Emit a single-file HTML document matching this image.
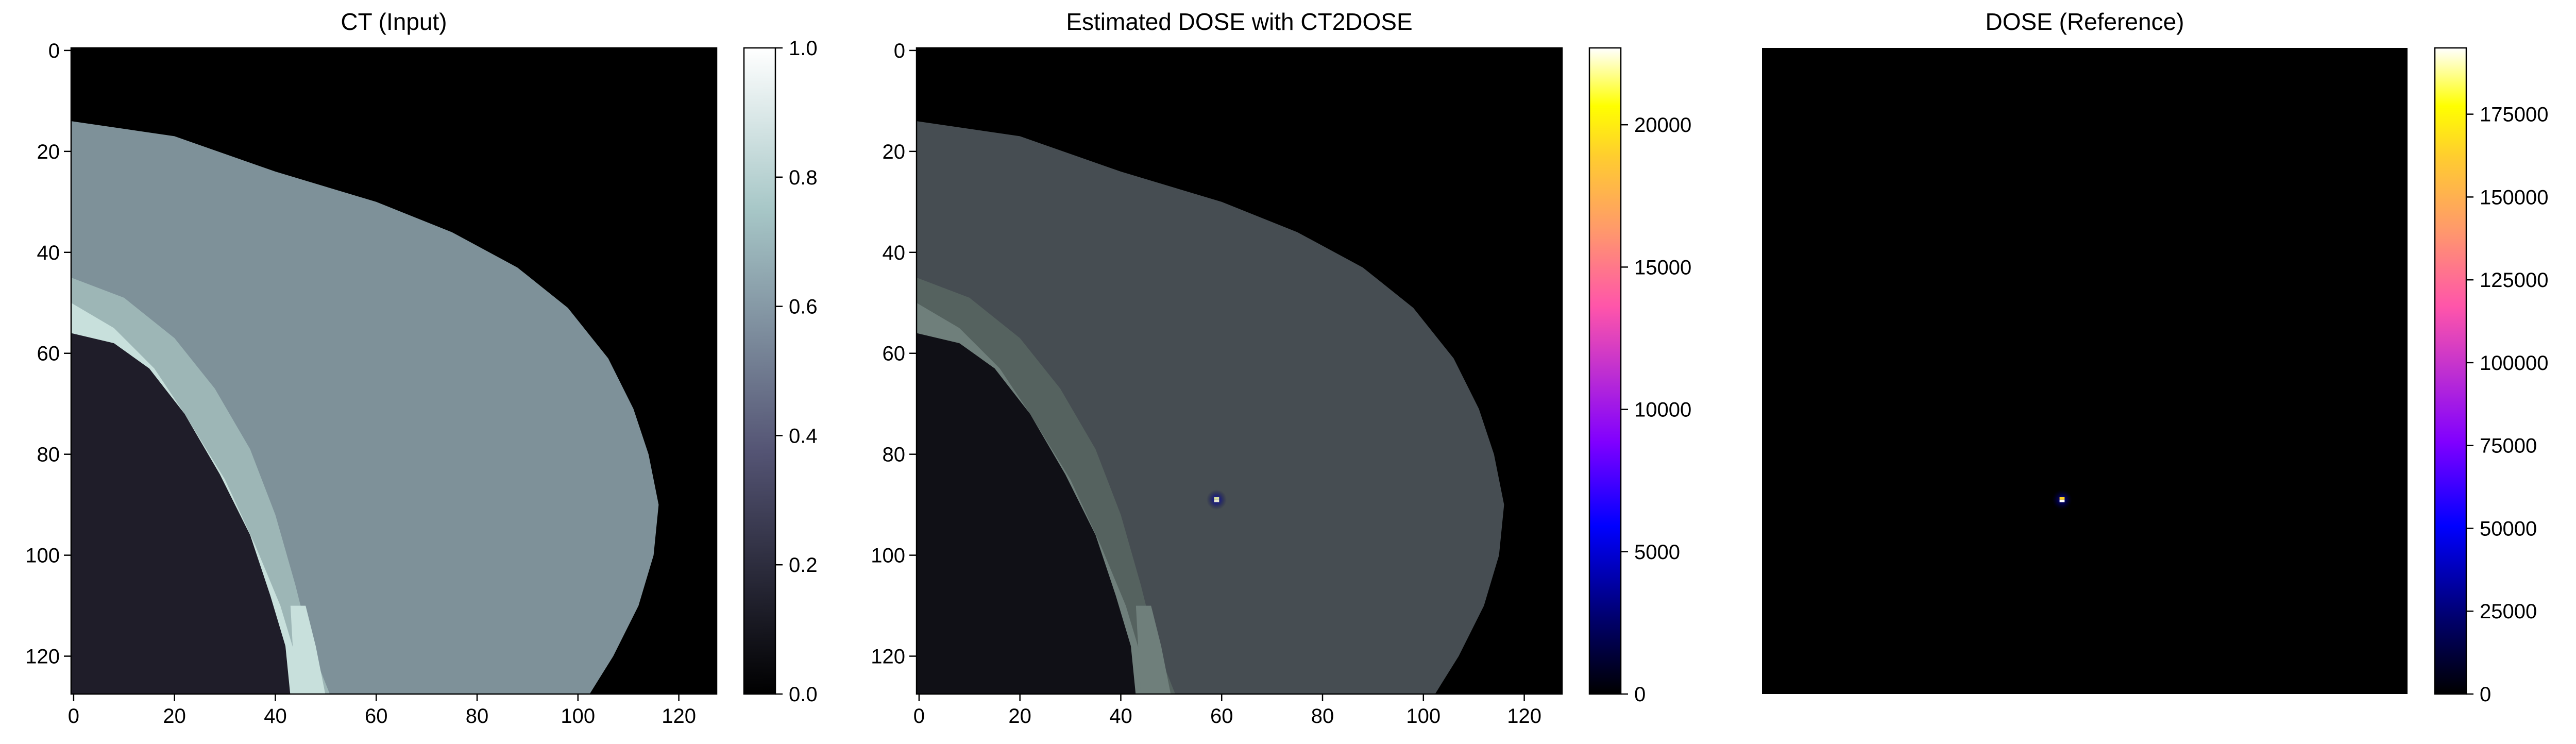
<!DOCTYPE html>
<html><head><meta charset="utf-8">
<style>
html,body{margin:0;padding:0;background:#fff;}
svg{display:block;font-family:"Liberation Sans","DejaVu Sans",sans-serif;}
</style></head>
<body>
<svg id="fig" width="5006" height="1444" viewBox="0 0 5006 1444" xmlns="http://www.w3.org/2000/svg">
<defs>
<linearGradient id="boneGrad" x1="0" y1="1" x2="0" y2="0">
<stop offset="0" stop-color="#000000"/><stop offset="0.375" stop-color="#545474"/>
<stop offset="0.75" stop-color="#a7c7c7"/><stop offset="1" stop-color="#ffffff"/>
</linearGradient>
<linearGradient id="gnuGrad" x1="0" y1="1" x2="0" y2="0">
<stop offset="0" stop-color="#000000"/><stop offset="0.12" stop-color="#000070"/>
<stop offset="0.26" stop-color="#0000ff"/><stop offset="0.39" stop-color="#8000ff"/>
<stop offset="0.5" stop-color="#c030d0"/><stop offset="0.6" stop-color="#ff55aa"/>
<stop offset="0.72" stop-color="#ff9a6a"/><stop offset="0.83" stop-color="#ffcc30"/>
<stop offset="0.91" stop-color="#ffff00"/><stop offset="1" stop-color="#ffffff"/>
</linearGradient>
<radialGradient id="glow"><stop offset="0" stop-color="#0000c0" stop-opacity="0.9"/><stop offset="1" stop-color="#000040" stop-opacity="0"/></radialGradient>
</defs>
<g id="root"></g>
</svg>
<script>
// data (image coordinates in pixel index units, 0..127)
const tickVals = [0, 20, 40, 60, 80, 100, 120];
const breastOutline = [[0,14],[20,17],[40,24],[60,30],[75,36],[88,43],[98,51],[106,61],[111,71],[114,80],[116,90],[115,100],[112,110],[107,120],[102,128],[0,128]];
const bandOutline = [[0,45],[10,49],[20,57],[28,67],[35,79],[40,92],[44,106],[47,118],[51,128],[0,128]];
const ribOutline = [[0,50],[8,55],[16,63],[22,72],[30,85],[36,98],[41,110],[44,120],[46,128],[0,128]];
const lowerRib = [[43,110],[46,110],[48,118],[50,128],[44,128]];
const lungOutline = [[0,56],[8,58],[15,63],[22,72],[29,84],[35,96],[39,108],[42,118],[43,128],[0,128]];
const hotSpot = [59, 89];
const ctTicks = [0.0, 0.2, 0.4, 0.6, 0.8, 1.0];
const ctTickLabels = ["0.0","0.2","0.4","0.6","0.8","1.0"];
const estMax = 22700;
const estTicks = [0, 5000, 10000, 15000, 20000];
const refMax = 195000;
const refTicks = [0, 25000, 50000, 75000, 100000, 125000, 150000, 175000];

const NS = "http://www.w3.org/2000/svg";
const root = document.getElementById("root");
function mk(tag, attrs, parent){ const e=document.createElementNS(NS,tag); for(const k in attrs) e.setAttribute(k,attrs[k]); (parent||root).appendChild(e); return e; }

const TOP=93, BOT=1347, H=BOT-TOP;
const panels = [
 {key:"ct", title:"CT (Input)", L:138, R:1391, cbL:1444, cbR:1505, axes:true},
 {key:"est", title:"Estimated DOSE with CT2DOSE", L:1779, R:3032, cbL:3085, cbR:3146, axes:true},
 {key:"ref", title:"DOSE (Reference)", L:3420, R:4673, cbL:4726, cbR:4787, axes:false}
];
const colors = {
 ct:{breast:"#7e9199", band:"#9db6b6", rib:"#c8e0dc", lung:"#1f1d29"},
 est:{breast:"#464d52", band:"#55625f", rib:"#6f7f7b", lung:"#101016"}
};

panels.forEach(p=>{
 const W=p.R-p.L;
 const sx = v => p.L + (v+0.5)/128*W;
 const sy = v => TOP + (v+0.5)/128*H;
 const g = mk("g",{});
 
 
 const bg = mk("rect",{x:p.L,y:TOP,width:W,height:H,fill:"#000"},g);
 
 
 const clip = mk("clipPath",{id:"clip-"+p.key},g);
 mk("rect",{x:p.L,y:TOP,width:W,height:H},clip);
 const ig = mk("g",{"clip-path":"url(#clip-"+p.key+")"},g);
 const poly = pts => pts.map(q=>sx(q[0]===0?-0.5:q[0]).toFixed(1)+","+sy(q[1]===128?128:q[1]).toFixed(1)).join(" ");
 if(p.key!=="ref"){
  const c=colors[p.key];
  const br = mk("polygon",{points:poly(breastOutline),fill:c.breast},ig);
  
  
  const bd = mk("polygon",{points:poly(bandOutline),fill:c.band},ig);
  
  
  const rb = mk("polygon",{points:poly(ribOutline),fill:c.rib},ig);
  
  
  const lg = mk("polygon",{points:poly(lungOutline),fill:c.lung},ig);
  
  
  const lr = mk("polygon",{points:poly(lowerRib),fill:c.rib},ig);
  
  
 }
 if(p.key!=="ct"){
  const px=W/128;
  const gl = mk("circle",{cx:sx(hotSpot[0]),cy:sy(hotSpot[1]),r:px*2,fill:"url(#glow)"},ig);
  
  
  const h1 = mk("rect",{x:sx(hotSpot[0])-px/2,y:sy(hotSpot[1])-px/2,width:px,height:px/2,fill:p.key==="ref"?"#ffd020":"#d8e0a0"},ig);
  
  
  const h2 = mk("rect",{x:sx(hotSpot[0])-px/2,y:sy(hotSpot[1]),width:px,height:px/2,fill:p.key==="ref"?"#ffffff":"#e8e8d0"},ig);
  
  
 }
 const t = mk("text",{x:(p.L+p.R)/2,y:58,"text-anchor":"middle","font-size":46,fill:"#000"},g);
 t.textContent=p.title;
 
 
 if(p.axes){
  const fr = mk("rect",{x:p.L,y:TOP,width:W,height:H,fill:"none",stroke:"#000","stroke-width":2.5},g);
  
  
  tickVals.forEach(v=>{
   mk("line",{x1:sx(v),x2:sx(v),y1:BOT,y2:BOT+14,stroke:"#000","stroke-width":2.5},g);
   const xt = mk("text",{x:sx(v),y:BOT+56,"text-anchor":"middle","font-size":40},g);
   xt.textContent=v;
   
   
   mk("line",{x1:p.L-14,x2:p.L,y1:sy(v),y2:sy(v),stroke:"#000","stroke-width":2.5},g);
   const yt = mk("text",{x:p.L-22,y:sy(v)+14,"text-anchor":"end","font-size":40},g);
   yt.textContent=v;
   
   
  });
 }
 const cb = mk("rect",{x:p.cbL,y:TOP,width:p.cbR-p.cbL,height:H,fill:p.key==="ct"?"url(#boneGrad)":"url(#gnuGrad)",stroke:"#000","stroke-width":2.5},g);
 
 
 let vals, max, labels;
 if(p.key==="ct"){vals=ctTicks;max=1;labels=ctTickLabels;}
 else if(p.key==="est"){vals=estTicks;max=estMax;labels=estTicks.map(String);}
 else {vals=refTicks;max=refMax;labels=refTicks.map(String);}
 vals.forEach((v,i)=>{
  const y = BOT - v/max*H;
  mk("line",{x1:p.cbR,x2:p.cbR+14,y1:y,y2:y,stroke:"#000","stroke-width":2.5},g);
  const ct = mk("text",{x:p.cbR+26,y:y+14,"font-size":40},g);
  ct.textContent=labels[i];
  
  
 });
});
</script>
</body></html>
